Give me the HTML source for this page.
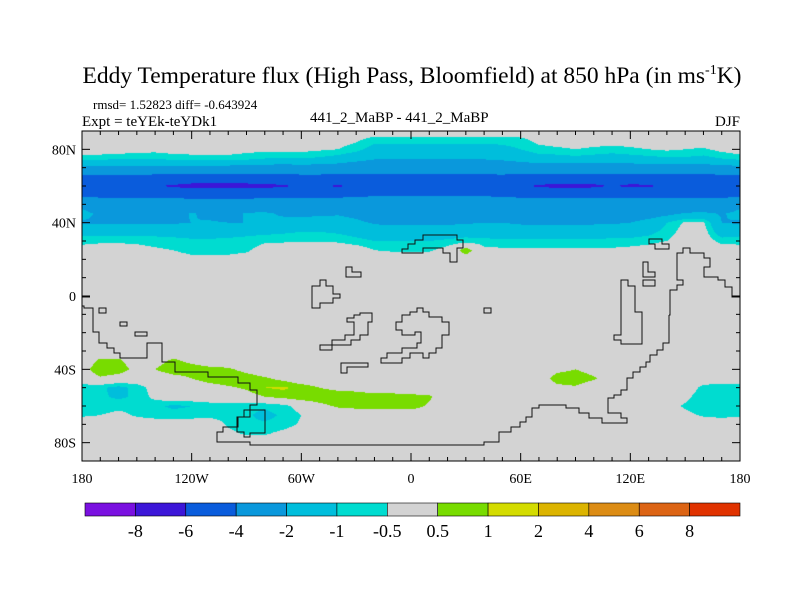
<!DOCTYPE html>
<html><head><meta charset="utf-8"><style>
body{margin:0;background:#fff;}
#wrap{position:relative;width:800px;height:600px;overflow:hidden;font-family:"Liberation Serif",serif;}
canvas{position:absolute;left:82px;top:131px;}
svg{position:absolute;left:0;top:0;}
</style></head><body>
<div id="wrap">
<canvas id="cv" width="658" height="330"></canvas>
<svg id="sv" width="800" height="600">
<text x="412" y="83" text-anchor="middle" font-size="23.5" font-family="Liberation Serif">Eddy Temperature flux (High Pass, Bloomfield) at 850 hPa (in ms<tspan font-size="14" dy="-9">-1</tspan><tspan dy="9">K)</tspan></text>
<text x="93" y="109" font-size="13" font-family="Liberation Serif">rmsd= 1.52823 diff= -0.643924</text>
<text x="82" y="126" font-size="15" font-family="Liberation Serif">Expt = teYEk-teYDk1</text>
<text x="310" y="122" font-size="15" font-family="Liberation Serif">441_2_MaBP - 441_2_MaBP</text>
<text x="740" y="126" font-size="15" text-anchor="end" font-family="Liberation Serif">DJF</text>
<g id="coast" fill="none" stroke="#111" stroke-width="1">
<polyline points="82,306 84,306 84,308 93,308 93,332 99,332 99,343 107,343 107,348 114,348 114,353 120,353 120,358 147,358 147,343 162,343 162,362 175,362 175,372 208,372 208,377 238,377 238,383 250,383 250,390 257,390 257,405 250,405 250,417 238,417 238,427 223,427 223,432 217,432 217,442 250,442 250,445 484,445 484,442 499,442 499,432 511,432 511,427 520,427 520,422 526,422 526,417 532,417 532,408 539,408 539,405 566,405 566,408 579,408 579,413 589,413 589,418 602,418 602,423 627,423 627,418 621,418 621,413 608,413 608,398 614,398 614,395 621,395 621,390 627,390 627,378 633,378 633,372 640,372 640,367 646,367 646,362 650,362 650,355 657,355 657,350 663,350 663,343 669,343 669,315"/>
<polyline points="669,315 670,315 670,290 677,290 677,285 683,285 683,280 677,280 677,253 683,253 683,248 690,248 690,253 704,253 704,258 710,258 710,267 704,267 704,277 718,277 718,280 725,280 725,287 732,287 732,297 740,297"/>
<polyline points="82,297 90,297"/>
<polygon points="621,290 621,335 614,335 614,340 621,340 621,344 642,344 642,312 635,312 635,286 628,286 628,280 621,280"/>
<polygon points="402,253 402,249 408,249 408,244 415,244 415,240 423,240 423,235 457,235 457,240 463,240 463,248 457,248 457,262 450,262 450,253 443,253 443,248 423,248 423,253"/>
<polygon points="346,267 352,267 352,272 361,272 361,277 346,277"/>
<polygon points="312,308 312,286 320,286 320,280 326,280 326,286 333,286 333,294 340,294 340,298 333,298 333,303 320,303 320,308"/>
<rect x="99" y="308" width="7" height="5"/><rect x="484" y="308" width="7" height="5"/>
<rect x="120" y="322" width="7" height="4"/><rect x="135" y="332" width="12" height="4"/>
<polygon points="649,239 662,239 662,244 669,244 669,249 655,249 655,244 649,244"/>
<polygon points="643,262 648,262 648,272 655,272 655,277 643,277"/><rect x="643" y="280" width="12" height="6"/>
<polygon points="320,350 320,345 332,345 332,340 345,340 345,335 354,335 354,322 347,322 347,318 354,318 354,315 360,315 360,313 372,313 372,322 368,322 368,335 360,335 360,340 351,340 351,345 332,345 332,350"/>
<polygon points="341,363 368,363 368,367 347,367 347,373 341,373"/>
<polygon points="402,315 410,315 410,312 417,312 417,308 423,308 423,312 429,312 429,317 442,317 442,322 449,322 449,335 442,335 442,348 436,348 436,353 429,353 429,358 423,358 423,353 410,353 410,358 402,358 402,363 381,363 381,358 387,358 387,353 402,353 402,348 417,348 417,343 421,343 421,332 415,332 415,335 402,335 402,330 396,330 396,322 402,322"/>
<polygon points="237,417 244,417 244,410 265,410 265,433 250,433 250,437 244,437 244,432 237,432"/>
</g>
<rect x="82" y="131" width="658" height="330" fill="none" stroke="#000" stroke-width="1"/>
<g id="ticks" stroke="#000" stroke-width="1"></g>
<g id="labels" font-size="14" font-family="Liberation Serif"></g>
<g id="cbar"></g>
</svg>
</div>
<script>
// ---- chart data ----
const lonCols = [-180,-170,-160,-150,-140,-130,-120,-110,-100,-90,-80,-70,-60,-50,-40,-30,-20,-10,0,10,20,30,40,50,60,70,80,90,100,110,120,130,140,150,160,170,180];
const levels = [-8,-6,-4,-2,-1,-0.5,0.5,1,2,4,6,8];
const levelLabels = ["-8","-6","-4","-2","-1","-0.5","0.5","1","2","4","6","8"];
const xTickLabels = ["180","120W","60W","0","60E","120E","180"];
const xTickLons = [-180,-120,-60,0,60,120,180];
const yTickLabels = ["80N","40N","0","40S","80S"];
const yTickLats = [80,40,0,-40,-80];
// rows: lat 85 .. 20 (NH band), values per lonCols
const rowN85 = [0,0,0,0,0,0,0,0,0,0,0,0,0,0,-0.2,-0.4,-0.8,-0.8,-0.8,-0.8,-0.8,-0.8,-0.8,-0.8,-0.7,-0.3,-0.2,-0.2,-0.2,-0.2,-0.2,-0.1,0,0,0,0,0];
const rowN80 = [-0.1,-0.1,-0.1,-0.2,-0.3,-0.2,-0.1,-0.1,-0.2,-0.3,-0.3,-0.2,-0.3,-0.4,-0.5,-0.8,-1.3,-1.3,-1.3,-1.3,-1.3,-1.3,-1.3,-1.2,-1.0,-0.7,-0.6,-0.5,-0.6,-0.7,-0.6,-0.5,-0.4,-0.5,-0.6,-0.3,-0.1];
const rowN75 = [-0.8,-0.8,-0.9,-1.0,-0.9,-0.8,-0.8,-0.7,-0.7,-0.8,-1.0,-1.1,-1.0,-1.1,-1.3,-1.6,-1.9,-1.9,-1.9,-1.9,-1.9,-1.9,-1.9,-1.8,-1.6,-1.3,-1.3,-1.2,-1.3,-1.4,-1.3,-1.2,-1.1,-1.1,-1.2,-1.0,-0.8];
const rowN70 = [-2.3,-2.3,-2.3,-2.3,-2.3,-2.3,-2.3,-2.3,-2.4,-2.4,-2.5,-2.5,-2.5,-2.5,-2.6,-2.8,-2.9,-2.9,-2.9,-2.9,-2.9,-2.9,-2.9,-2.8,-2.7,-2.7,-2.7,-2.7,-2.7,-2.7,-2.6,-2.6,-2.5,-2.5,-2.5,-2.4,-2.3];
const rowN65 = [-4.5,-4.5,-4.5,-4.5,-4.6,-4.6,-4.7,-4.7,-4.7,-4.7,-4.6,-4.6,-4.5,-4.5,-4.6,-4.5,-4.4,-4.4,-4.4,-4.4,-4.4,-4.4,-4.4,-4.4,-4.5,-4.6,-4.7,-4.7,-4.7,-4.6,-4.7,-4.7,-4.6,-4.6,-4.6,-4.5,-4.5];
const rowN60 = [-5.7,-5.7,-5.7,-5.8,-5.9,-6.2,-6.5,-6.5,-6.5,-6.5,-6.4,-6.2,-5.8,-5.8,-6.2,-5.7,-5.5,-5.5,-5.5,-5.5,-5.5,-5.5,-5.5,-5.6,-5.8,-6.2,-6.4,-6.4,-6.3,-5.9,-6.3,-6.2,-5.7,-5.6,-5.6,-5.6,-5.7];
const rowN55 = [-4.4,-4.4,-4.4,-4.4,-4.4,-4.4,-4.5,-4.5,-4.5,-4.5,-4.4,-4.4,-4.4,-4.3,-4.3,-4.2,-4.1,-4.1,-4.1,-4.1,-4.1,-4.1,-4.1,-4.2,-4.3,-4.4,-4.4,-4.4,-4.4,-4.4,-4.4,-4.4,-4.4,-4.4,-4.4,-4.4,-4.4];
const rowN50 = [-2.3,-2.9,-3.2,-3.2,-3.2,-3.2,-3.2,-3.2,-3.2,-3.2,-3.2,-3.2,-3.2,-3.2,-3.2,-3.2,-3.2,-3.2,-3.2,-3.2,-3.2,-3.2,-3.2,-3.2,-3.2,-3.2,-3.2,-3.2,-3.2,-3.2,-3.2,-3.2,-3.2,-3.1,-3.1,-3.1,-2.3];
const rowN45 = [-1.7,-2.2,-2.6,-2.7,-2.7,-2.6,-1.9,-2.3,-2.5,-1.9,-1.8,-2.2,-2.3,-2.2,-2.1,-2.3,-2.6,-2.7,-2.7,-2.7,-2.7,-2.7,-2.7,-2.7,-2.7,-2.7,-2.7,-2.7,-2.7,-2.7,-2.7,-2.6,-2.3,-1.9,-1.8,-2.1,-1.7];
const rowN40 = [-2.1,-2.1,-2.1,-2.1,-2.1,-2.1,-2.0,-1.9,-2.0,-2.0,-1.8,-1.6,-1.5,-1.5,-1.6,-1.8,-2.1,-2.2,-2.2,-2.2,-2.2,-2.1,-2.0,-2.0,-2.1,-2.1,-2.1,-2.1,-2.1,-2.1,-2.0,-1.6,-1.0,-0.4,-0.4,-2.0,-2.1];
const rowN35 = [-1.3,-1.3,-1.3,-1.3,-1.3,-1.3,-1.3,-1.3,-1.2,-1.2,-1.2,-1.1,-1.0,-1.0,-1.1,-1.3,-1.5,-1.5,-1.5,-1.5,-1.4,-1.3,-1.5,-1.6,-1.6,-1.6,-1.6,-1.6,-1.6,-1.5,-1.4,-1.2,-0.8,-0.2,-0.2,-1.5,-1.3];
const rowN30 = [-0.7,-0.6,-0.6,-0.6,-0.7,-0.8,-0.9,-0.9,-0.9,-0.8,-0.6,-0.6,-0.55,-0.55,-0.6,-0.8,-1.0,-1.0,-1.0,-1.0,-0.9,-0.8,-0.8,-0.8,-0.8,-0.8,-0.8,-0.8,-0.8,-0.8,-0.8,-0.7,-0.5,-0.1,-0.1,-0.7,-0.7];
const rowN25 = [-0.2,-0.2,-0.2,-0.3,-0.4,-0.5,-0.7,-0.7,-0.7,-0.6,-0.2,0,0,0,0,-0.1,-0.5,-0.6,-0.6,-0.6,-0.2,0.9,-0.3,-0.4,-0.4,-0.4,-0.4,-0.4,-0.4,-0.4,-0.3,-0.2,0,0,0,-0.1,-0.2];
const rowN20 = [0,0,0,0,-0.1,-0.2,-0.3,-0.3,-0.3,-0.2,0,0,0,0,0,0,0,0,0,0,0,0,0,0,0,0,0,0,0,0,0,0,0,0,0,0,0];
// SH band lat -35 .. -75
const rowS35 = [0,0.6,0.6,0.1,0.2,0.6,0.3,0,0,0,0,0,0,0,0,0,0,0,0,0,0,0,0,0,0,0,0,0,0,0,0,0,0,0,0,0.3,0];
const rowS40 = [0.2,0.9,0.8,0.3,0.5,0.9,0.8,0.7,0.6,0.3,0,0,0,0,0,0,0,0,0,0,0,0,0,0,0,0,0.3,0.5,0.2,0,0,0,0,0,0,0.4,0.2];
const rowS45 = [0,0.4,0.2,0,0,0.2,0.5,0.8,0.9,0.8,0.6,0.3,0,0,0,0,0,0,0,0,0,0,0,0,0,0,0.8,0.9,0.6,0,0,0,0,0,0,0,0];
const rowS50 = [-0.8,-0.9,-1.2,-0.8,-0.2,0,0,0.2,0.4,0.6,1.0,1.1,0.8,0.5,0.3,0.2,0,0,0,0,0,0,0,0,0,0,0.3,0.4,0,0,0,0,0,0,-0.7,-0.9,-0.8];
const rowS55 = [-1.0,-0.9,-1.1,-0.9,-0.3,0,0,0,0,0.2,0.5,0.7,0.9,0.9,0.9,0.9,0.8,0.8,0.7,0.6,0,0,0,0,0,0,0,0,0,0,0,0,0,-0.3,-0.9,-1.0,-1.0];
const rowS60 = [-0.9,-0.8,-0.7,-0.7,-0.9,-1.1,-1.0,-0.8,-0.7,-0.8,-0.9,-0.7,-0.2,0.3,0.6,0.7,0.7,0.8,0.8,0.4,0,0,0,0,0,0,0,0,0,0,0,0,-0.2,-0.6,-0.9,-1.0,-0.9];
const rowS65 = [-0.6,-0.5,-0.3,-0.6,-0.8,-0.8,-0.8,-0.7,-0.8,-0.9,-1.2,-0.9,-0.5,0,0,0,0,0,0,0,0,0,0,0,0,0,0,0,0,0,0,0,0,-0.3,-0.6,-0.7,-0.6];
const rowS70 = [0,0,0,0,0,0,0,0,-0.6,-0.9,-0.9,-0.8,-0.4,0,0,0,0,0,0,0,0,0,0,0,0,0,0,0,0,0,0,0,0,0,0,0,0];
const rowS75 = [0,0,0,0,0,0,0,0,-0.3,-0.6,-0.6,-0.3,0,0,0,0,0,0,0,0,0,0,0,0,0,0,0,0,0,0,0,0,0,0,0,0,0];
const colors = ["#7a10e0","#3c16d8","#0a5cdc","#0a98dc","#00bedc","#00dcd0","#d3d3d3","#78dc00","#d4dc00","#dcb400","#dc8c14","#dc6414","#e03200"];

const nh = {85:rowN85,80:rowN80,75:rowN75,70:rowN70,65:rowN65,60:rowN60,55:rowN55,50:rowN50,45:rowN45,40:rowN40,35:rowN35,30:rowN30,25:rowN25,20:rowN20,
  "-35":rowS35,"-40":rowS40,"-45":rowS45,"-50":rowS50,"-55":rowS55,"-60":rowS60,"-65":rowS65,"-70":rowS70,"-75":rowS75};
const grid = [];
for (let k=0;k<37;k++){ const lat=90-5*k; grid.push(nh[lat] ? nh[lat] : new Array(37).fill(0)); }

const X0=82,Y0=131,W=658,H=330;
const xOf = lon => X0 + (lon+180)/360*W;
const yOf = lat => Y0 + (90-lat)/180*H;
function sample(lon,lat){
  let fi=(lon+180)/10, fj=(90-lat)/5;
  let i=Math.min(35,Math.max(0,Math.floor(fi))), j=Math.min(35,Math.max(0,Math.floor(fj)));
  let u=fi-i, v=fj-j;
  return grid[j][i]*(1-u)*(1-v)+grid[j][i+1]*u*(1-v)+grid[j+1][i]*(1-u)*v+grid[j+1][i+1]*u*v;
}
function colorIdx(val){ let c=0; while(c<levels.length && val>=levels[c]) c++; return c; }
const rgb = colors.map(h=>[parseInt(h.slice(1,3),16),parseInt(h.slice(3,5),16),parseInt(h.slice(5,7),16)]);
const cv=document.getElementById('cv'), ctx=cv.getContext('2d');
const img=ctx.createImageData(W,H);
for(let py=0;py<H;py++){ const lat=90-(py+0.5)/H*180;
  for(let px=0;px<W;px++){ const lon=-180+(px+0.5)/W*360;
    const c=rgb[colorIdx(sample(lon,lat))]; const o=(py*W+px)*4;
    img.data[o]=c[0];img.data[o+1]=c[1];img.data[o+2]=c[2];img.data[o+3]=255; } }
ctx.putImageData(img,0,0);

const NS='http://www.w3.org/2000/svg';
function mk(tag,attrs,parent){const e=document.createElementNS(NS,tag);for(const k in attrs)e.setAttribute(k,attrs[k]);parent.appendChild(e);return e;}
const tg=document.getElementById('ticks'), lg=document.getElementById('labels');
for(let lon=-180;lon<=180;lon+=10){ const x=xOf(lon), len=(lon%60===0)?8:4;
  let t=mk('line',{x1:x,y1:Y0+H,x2:x,y2:Y0+H-len},tg);
   
  t=mk('line',{x1:x,y1:Y0,x2:x,y2:Y0+len},tg);
    }
for(let lat=-80;lat<=80;lat+=10){ const y=yOf(lat), len=(lat%40===0)?8:4;
  let t=mk('line',{x1:X0,y1:y,x2:X0+len,y2:y},tg);
   
  t=mk('line',{x1:X0+W,y1:y,x2:X0+W-len,y2:y},tg);
    }
xTickLabels.forEach((s,i)=>{ const t=mk('text',{x:xOf(xTickLons[i]),y:483,'text-anchor':'middle'},lg); t.textContent=s;
    });
yTickLabels.forEach((s,i)=>{ const t=mk('text',{x:76,y:yOf(yTickLats[i])+5,'text-anchor':'end'},lg); t.textContent=s;
    });
const cb=document.getElementById('cbar'); const cbx=85,cbw=655/colors.length;
colors.forEach((c,i)=>{ const r=mk('rect',{x:cbx+i*cbw,y:503,width:cbw,height:13,fill:c,stroke:'#000','stroke-width':0.6},cb);
    });
levelLabels.forEach((s,i)=>{ const t=mk('text',{x:cbx+(i+1)*cbw,y:537,'text-anchor':'middle','font-size':18,'font-family':'Liberation Serif'},cb); t.textContent=s;
    });
</script>
</body></html>
